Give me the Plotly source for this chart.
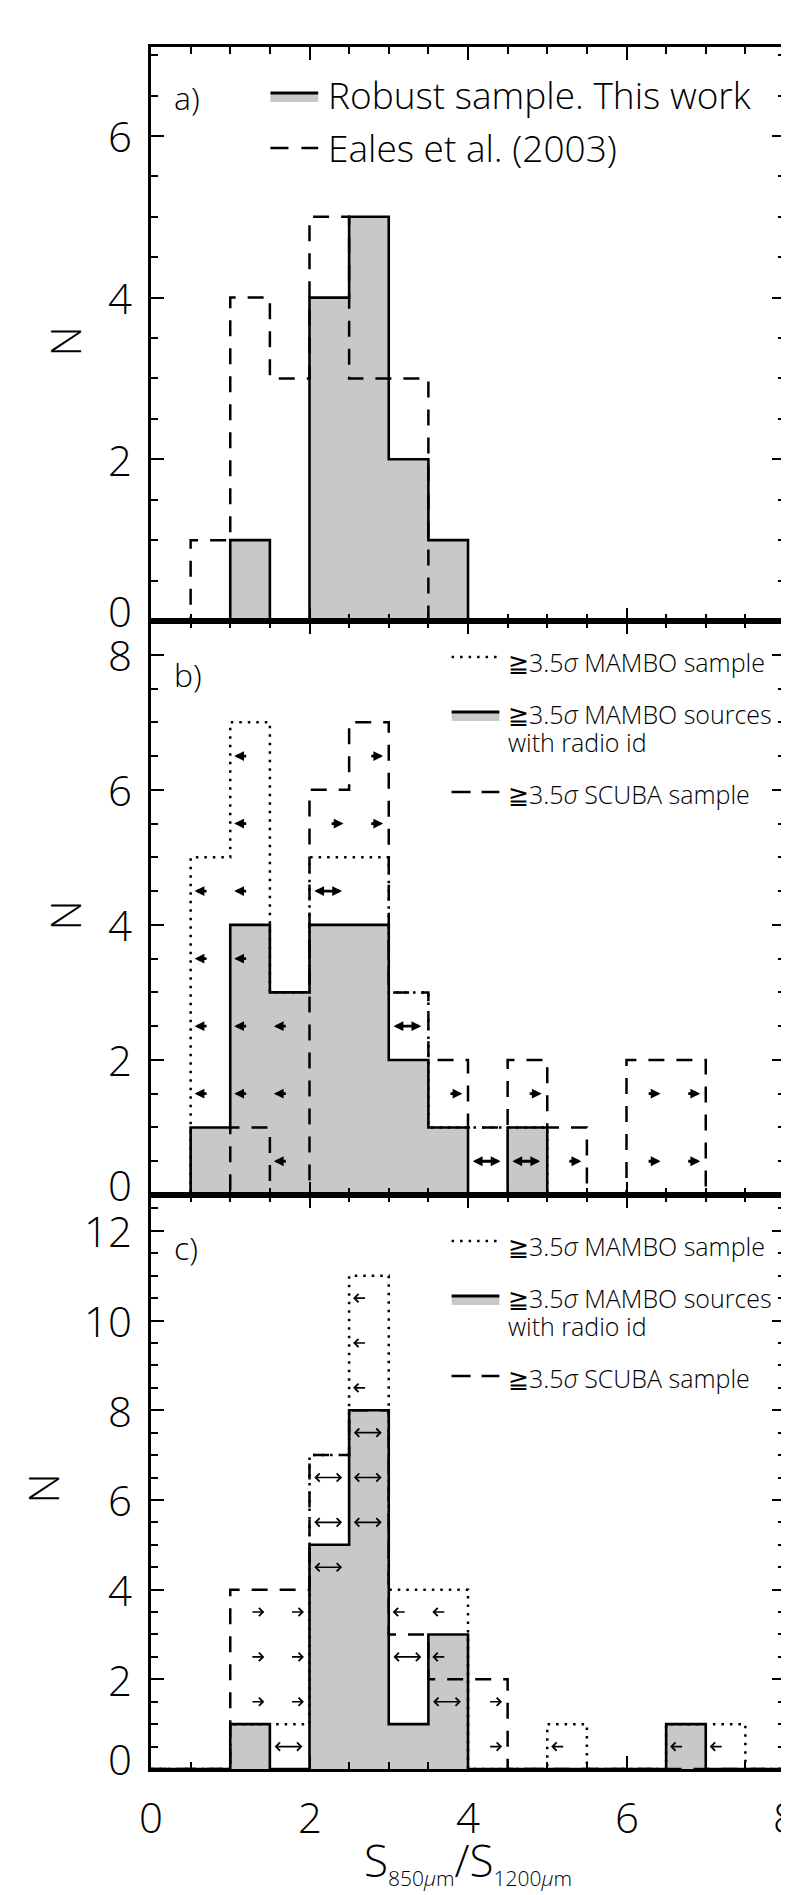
import plotly.graph_objects as go

# ---------------- data ----------------
bin_edges = [0.0, 0.5, 1.0, 1.5, 2.0, 2.5, 3.0, 3.5, 4.0, 4.5, 5.0, 5.5, 6.0, 6.5, 7.0, 7.5, 8.0]

# panel a
a_robust = [0, 0, 1, 0, 4, 5, 2, 1, 0, 0, 0, 0, 0, 0, 0, 0]
a_eales = [0, 1, 4, 3, 5, 3, 3, 0, 0, 0, 0, 0, 0, 0, 0, 0]
# panel b
b_mambo = [0, 5, 7, 3, 5, 5, 3, 1, 1, 1, 0, 0, 0, 0, 0, 0]
b_radio = [0, 1, 4, 3, 4, 4, 2, 1, 0, 1, 0, 0, 0, 0, 0, 0]
b_scuba = [0, 0, 1, 0, 6, 7, 3, 2, 1, 2, 1, 0, 2, 2, 0, 0]
# panel c
c_mambo = [0, 0, 1, 1, 7, 11, 4, 4, 0, 0, 1, 0, 0, 1, 1, 0]
c_radio = [0, 0, 1, 0, 5, 8, 1, 3, 0, 0, 0, 0, 0, 1, 0, 0]
c_scuba = [0, 0, 4, 4, 7, 8, 3, 2, 2, 0, 0, 0, 0, 0, 0, 0]

# limit arrows: left edge of bin, level, kind (l = upper limit, r = lower limit, b = both)
b_arrow_bin = [0.5, 0.5, 0.5, 0.5, 1.0, 1.0, 1.0, 1.0, 1.0, 1.0, 1.5, 1.5, 1.5,
               2.0, 2.0, 2.5, 2.5, 3.0, 3.5, 4.0, 4.5, 4.5, 5.0, 6.0, 6.0, 6.5, 6.5]
b_arrow_lev = [1.5, 2.5, 3.5, 4.5, 1.5, 2.5, 3.5, 4.5, 5.5, 6.5, 0.5, 1.5, 2.5,
               4.5, 5.5, 5.5, 6.5, 2.5, 1.5, 0.5, 0.5, 1.5, 0.5, 0.5, 1.5, 0.5, 1.5]
b_arrow_kind = ['l', 'l', 'l', 'l', 'l', 'l', 'l', 'l', 'l', 'l', 'l', 'l', 'l',
                'b', 'r', 'r', 'r', 'b', 'r', 'b', 'b', 'r', 'r', 'r', 'r', 'r', 'r']

c_arrow_bin = [1.0, 1.0, 1.0, 1.5, 1.5, 1.5, 1.5, 2.0, 2.0, 2.0,
               2.5, 2.5, 2.5, 2.5, 2.5, 2.5, 3.0, 3.0, 3.5, 3.5, 3.5,
               4.0, 4.0, 5.0, 6.5, 7.0]
c_arrow_lev = [1.5, 2.5, 3.5, 0.5, 1.5, 2.5, 3.5, 4.5, 5.5, 6.5,
               5.5, 6.5, 7.5, 8.5, 9.5, 10.5, 2.5, 3.5, 1.5, 2.5, 3.5,
               0.5, 1.5, 0.5, 0.5, 0.5]
c_arrow_kind = ['r', 'r', 'r', 'b', 'r', 'r', 'r', 'b', 'b', 'b',
                'b', 'b', 'b', 'l', 'l', 'l', 'b', 'l', 'b', 'l', 'l',
                'r', 'r', 'l', 'l', 'l']

x_ticks = [0, 2, 4, 6, 8]
a_yticks = [0, 2, 4, 6]
b_yticks = [0, 2, 4, 6, 8]
c_yticks = [0, 2, 4, 6, 8, 10, 12]

# ---------------- layout geometry ----------------
FIG_W, FIG_H = 789, 1895
ML, MR, MT, MB = 143, 9, 39, 134
PW = FIG_W - ML - MR
PH = FIG_H - MT - MB
FONT = "Open Sans"
GRAY = "#c8c8c8"


def fnt(size):
    return dict(family=FONT, size=size, color="black", weight=300)


def px(x):
    return (x - ML) / PW


def py(y):
    return (FIG_H - MB - y) / PH


def step(vals):
    return bin_edges, list(vals) + [vals[-1]]


fig = go.Figure()
panels = [("x", "y"), ("x2", "y2"), ("x3", "y3")]


def add_hist(xa, ya, filled=None, dotted=None, dashed=None):
    if filled is not None:
        xs, ys = step(filled)
        fig.add_trace(go.Scatter(x=xs, y=ys, xaxis=xa, yaxis=ya, mode="lines",
                                 line=dict(width=0, shape="hv"), fill="tozeroy",
                                 fillcolor=GRAY, hoverinfo="skip", showlegend=False))
    if dotted is not None:
        xs, ys = step(dotted)
        fig.add_trace(go.Scatter(x=xs, y=ys, xaxis=xa, yaxis=ya, mode="lines",
                                 line=dict(width=2.5, shape="hv", color="black", dash="2.5px,6px"),
                                 hoverinfo="skip", showlegend=False))
    if dashed is not None:
        xs, ys = step(dashed)
        fig.add_trace(go.Scatter(x=xs, y=ys, xaxis=xa, yaxis=ya, mode="lines",
                                 line=dict(width=2.5, shape="hv", color="black", dash="16px,12px"),
                                 hoverinfo="skip", showlegend=False))
    if filled is not None:
        xs, ys = step(filled)
        fig.add_trace(go.Scatter(x=xs, y=ys, xaxis=xa, yaxis=ya, mode="lines",
                                 line=dict(width=2.6, shape="hv", color="black"),
                                 hoverinfo="skip", showlegend=False))


add_hist("x", "y", filled=a_robust, dashed=a_eales)
add_hist("x2", "y2", filled=b_radio, dotted=b_mambo, dashed=b_scuba)
add_hist("x3", "y3", filled=c_radio, dotted=c_mambo, dashed=c_scuba)

annotations = []
shapes = []


def add_arrows(xa, ya, bins, levs, kinds, head, width, size):
    for lo, lev, k in zip(bins, levs, kinds):
        hi = lo + 0.5
        if k == "l":
            x, ax, side = lo + 0.05, lo + 0.22, "end"
        elif k == "r":
            x, ax, side = hi - 0.07, hi - 0.24, "end"
        else:
            x, ax, side = lo + 0.06, hi - 0.07, "end+start"
        annotations.append(dict(x=x, y=lev, ax=ax, ay=lev, xref=xa, yref=ya,
                                axref=xa, ayref=ya, text="", showarrow=True,
                                arrowhead=head, startarrowhead=head, arrowside=side,
                                arrowwidth=width, arrowsize=size, startarrowsize=size,
                                arrowcolor="black", standoff=0, startstandoff=0))


add_arrows("x2", "y2", b_arrow_bin, b_arrow_lev, b_arrow_kind, 2, 2.8, 0.7)
add_arrows("x3", "y3", c_arrow_bin, c_arrow_lev, c_arrow_kind, 4, 1.6, 1.0)

# y tick labels
for ya, ticks in (("y", a_yticks), ("y2", b_yticks), ("y3", c_yticks)):
    for t in ticks:
        annotations.append(dict(x=px(126), y=t, xref="paper", yref=ya, text=str(t),
                                showarrow=False, xanchor="right", yanchor="middle",
                                yshift=11 if t == 0 else 0, font=fnt(42)))
# x tick labels
for t in x_ticks:
    annotations.append(dict(x=t, y=py(1808), xref="x3", yref="paper", text=str(t),
                            showarrow=False, xanchor="center", yanchor="middle",
                            font=fnt(42)))
# axis titles
annotations.append(dict(x=0.5, y=py(1853), xref="paper", yref="paper",
                        text="S<sub><span style='font-size:21px'>850<i>μ</i>m</span></sub>/S<sub><span style='font-size:21px'>1200<i>μ</i>m</span></sub>",
                        showarrow=False, xanchor="center", yanchor="middle",
                        font=fnt(44)))
for xc, yc in ((56, 333), (56, 907), (33, 1481)):
    annotations.append(dict(x=px(xc), y=py(yc), xref="paper", yref="paper", text="N",
                            textangle=-90, showarrow=False, xanchor="center", yanchor="middle",
                            font=fnt(42)))

# panel labels
for lab, yc in (("a)", 90), ("b)", 666), ("c)", 1240)):
    annotations.append(dict(x=px(164), y=py(yc), xref="paper", yref="paper", text=lab,
                            showarrow=False, xanchor="left", yanchor="middle",
                            font=fnt(32)))


def leg_text(txt, x, y, size):
    annotations.append(dict(x=px(x), y=py(y), xref="paper", yref="paper", text=txt,
                            showarrow=False, xanchor="left", yanchor="middle",
                            font=fnt(size)))


def leg_solid(x0, x1, y):
    shapes.append(dict(type="rect", xref="paper", yref="paper", x0=px(x0), x1=px(x1),
                       y0=py(y + 1), y1=py(y + 9), fillcolor=GRAY, line=dict(width=0)))
    shapes.append(dict(type="line", xref="paper", yref="paper", x0=px(x0), x1=px(x1),
                       y0=py(y), y1=py(y), line=dict(color="black", width=2.8)))


def leg_line(x0, x1, y, dash):
    shapes.append(dict(type="line", xref="paper", yref="paper", x0=px(x0), x1=px(x1),
                       y0=py(y), y1=py(y), line=dict(color="black", width=2.5, dash=dash)))


# legend panel a
leg_solid(263, 311, 85)
leg_text("Robust sample. This work", 319, 86, 37)
leg_line(263, 311, 140, "18px,13px")
leg_text("Eales et al. (2003)", 319, 140, 37)

GE = "≧3.5<i>σ</i>"
for dy, base in ((0, 613), (10, 1187)):
    leg_line(445, 493, base + 36 + dy, "2.5px,6px")
    leg_text(GE + " MAMBO sample", 500, base + 41 + dy, 25)
    leg_solid(445, 493, base + 91 + dy)
    leg_text(GE + " MAMBO sources", 500, base + 93 + dy, 25)
    leg_text("with radio id", 500, base + 121 + dy, 25)
    leg_line(445, 493, base + 171 + dy, "19px,11px")
    leg_text(GE + " SCUBA sample", 500, base + 173 + dy, 25)

axis_common = dict(showline=True, linewidth=2.6, linecolor="black", mirror="allticks",
                   ticks="inside", ticklen=13, tickwidth=2, tickcolor="black",
                   showgrid=False, zeroline=False, showticklabels=False,
                   minor=dict(ticks="inside", ticklen=7, tickwidth=2, tickcolor="black",
                              dtick=0.5, showgrid=False))

layout = dict(width=FIG_W, height=FIG_H, paper_bgcolor="white", plot_bgcolor="white",
              margin=dict(l=ML, r=MR, t=MT, b=MB), showlegend=False,
              annotations=annotations, shapes=shapes)
y_domains = [[2 / 3, 1], [1 / 3, 2 / 3], [0, 1 / 3]]
y_ranges = [[0, 7.1], [0, 8.5], [0, 12.8]]
for i, (xa, ya) in enumerate(panels):
    xkey = "xaxis" if i == 0 else f"xaxis{i + 1}"
    ykey = "yaxis" if i == 0 else f"yaxis{i + 1}"
    layout[xkey] = dict(axis_common, range=[0, 8], dtick=2, tick0=0, anchor=ya, domain=[0, 1])
    layout[ykey] = dict(axis_common, range=y_ranges[i], dtick=2, tick0=0, anchor=xa,
                        domain=y_domains[i])

fig.update_layout(**layout)
fig.write_html("out.html")
